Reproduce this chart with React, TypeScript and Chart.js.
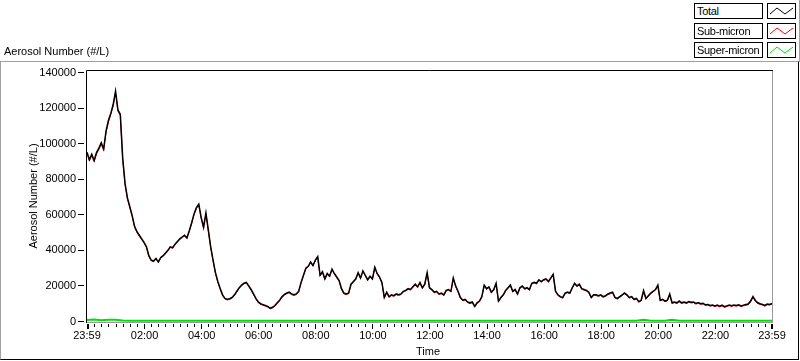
import React, { useEffect, useRef } from 'react';
import { Chart, registerables } from 'chart.js';

Chart.register(...registerables);

// Sampling step (minutes after the 23:59 start) of the read-off series
const SAMPLE_MIN = 5;
const SUPER_SAMPLE_MIN = 15;

// Total aerosol number (#/L), one value every 5 minutes from 23:59 to 23:59
const totalValues = [
  95200, 91000, 94000, 90500, 95000, 97500, 100500, 97000, 107000, 113000,
  117000, 122000, 129500, 119000, 116500, 92000, 77500, 69500, 64500, 59500,
  53500, 50500, 48500, 46500, 44500, 42000, 37000, 34500, 34000, 35500,
  33500, 36000, 37000, 38500, 40000, 42000, 41500, 43500, 45000, 46500,
  47500, 48500, 47000, 51000, 55500, 60500, 64000, 66000, 58500, 53000,
  61000, 51500, 42000, 34500, 27500, 22500, 18500, 15000, 13000, 12500,
  12800, 13500, 15000, 17000, 19000, 20500, 21500, 22000, 20000, 18000,
  15500, 13000, 11000, 10000, 9500, 9000, 8500, 7500, 8000, 9000,
  10500, 12000, 14000, 15200, 16000, 16500, 15500, 15000, 15500, 17000,
  22000, 26000, 30000, 31000, 33500, 31500, 34500, 36500, 26000, 28000,
  24000, 27000, 25500, 29500, 27000, 25000, 23000, 18500, 16000, 15500,
  16000, 21000, 22500, 24000, 27500, 24500, 28500, 26000, 23500, 25500,
  24000, 30500, 27000, 25000, 22000, 13500, 16500, 14000, 15000, 14500,
  15500, 15000, 15500, 17000, 17500, 18500, 18000, 19500, 21000, 19500,
  22000, 19000, 21000, 27500, 19000, 18000, 16500, 17000, 15500, 16000,
  15000, 17500, 18000, 17000, 24500, 20000, 17000, 13500, 12000, 12500,
  11000, 10500, 11000, 8500, 10500, 11500, 14000, 20500, 18500, 19500,
  16500, 18000, 21500, 11500, 13500, 15000, 17500, 19000, 20500, 17000,
  18000, 15500, 19000, 20000, 18500, 19000, 18000, 21500, 22000, 21500,
  23500, 22500, 23500, 24000, 22500, 24500, 26500, 17000, 15000, 14000,
  13500, 16000, 16500, 16000, 19000, 21500, 20000, 21000, 18500, 18000,
  17500, 16500, 13500, 15000, 15000, 14500, 15000, 14000, 14500, 15500,
  16000, 16500, 13500, 13000, 14000, 15000, 16000, 15000, 13500, 14000,
  12500, 13000, 11200, 12000, 17400, 13000, 14500, 16000, 17000, 18000,
  20500, 12000, 12500, 11500, 12000, 15500, 10500, 11000, 10500, 11500,
  10500, 11000, 10500, 11200, 10800, 11000, 10200, 10600, 10000, 10300,
  9400, 9600, 9000, 9300, 8800, 9200, 8600, 9200, 8300, 8800,
  9300, 8900, 9300, 9000, 9400, 8800, 9200, 9500, 9800, 11500,
  14000, 11800, 10500, 10000, 9600, 9000, 9800, 9600, 10200,
];

// Sub-micron aerosol number (#/L), same 5-minute steps
const subMicronValues = [
  94500, 90300, 93200, 89800, 94200, 96700, 99800, 96200, 106200, 112100,
  116300, 121100, 128600, 118200, 115800, 91300, 76900, 68900, 64000, 59000,
  53000, 50000, 48000, 46000, 44000, 41600, 36600, 34100, 33600, 35100,
  33100, 35600, 36600, 38100, 39600, 41600, 41100, 43100, 44600, 46100,
  47100, 48100, 46600, 50600, 55000, 60000, 63500, 65500, 58000, 52500,
  60500, 51000, 41600, 34100, 27100, 22100, 18100, 14600, 12600, 12100,
  12400, 13100, 14600, 16600, 18600, 20100, 21100, 21600, 19600, 17600,
  15100, 12600, 10600, 9600, 9100, 8600, 8100, 7100, 7600, 8600,
  10100, 11600, 13600, 14800, 15600, 16100, 15100, 14600, 15100, 16600,
  21600, 25600, 29600, 30600, 33100, 31100, 34100, 36100, 25600, 27600,
  23600, 26600, 25100, 29100, 26600, 24600, 22600, 18100, 15600, 15100,
  15600, 20600, 22100, 23600, 27100, 24100, 28100, 25600, 23100, 25100,
  23600, 30100, 26600, 24600, 21600, 13100, 16100, 13600, 14600, 14100,
  15100, 14600, 15100, 16600, 17100, 18100, 17600, 19100, 20600, 19100,
  21600, 18600, 20600, 27100, 18600, 17600, 16100, 16600, 15100, 15600,
  14600, 17100, 17600, 16600, 24100, 19600, 16600, 13100, 11600, 12100,
  10600, 10100, 10600, 8100, 10100, 11100, 13600, 20100, 18100, 19100,
  16100, 17600, 21100, 11100, 13100, 14600, 17100, 18600, 20100, 16600,
  17600, 15100, 18600, 19600, 18100, 18600, 17600, 21100, 21600, 21100,
  23100, 22100, 23100, 23600, 22100, 24100, 26100, 16600, 14600, 13600,
  13100, 15600, 16100, 15600, 18600, 21100, 19600, 20600, 18100, 17600,
  17100, 16100, 13100, 14600, 14600, 14100, 14600, 13600, 14100, 15100,
  15600, 16100, 13100, 12600, 13600, 14600, 15600, 14600, 13100, 13600,
  12100, 12600, 10800, 11600, 16700, 12600, 14100, 15600, 16600, 17600,
  20100, 11600, 12100, 11100, 11600, 14800, 10100, 10600, 10100, 11100,
  10100, 10600, 10100, 10800, 10400, 10600, 9800, 10200, 9600, 9900,
  9000, 9200, 8600, 8900, 8400, 8800, 8200, 8800, 7900, 8400,
  8900, 8500, 8900, 8600, 9000, 8400, 8800, 9100, 9400, 11100,
  13600, 11400, 10100, 9600, 9200, 8600, 9400, 9200, 9800,
];

// Super-micron aerosol number (#/L), one value every 15 minutes
const superMicronValues = [
  800, 1100, 650, 1050, 950, 550, 480, 450, 400, 420, 380, 400, 410, 390, 400, 380, 400, 420, 390, 400,
  410, 380, 400, 390, 400, 420, 380, 400, 400, 390, 410, 400, 380, 400, 390, 410, 400, 380, 400, 420,
  390, 400, 380, 400, 410, 390, 400, 380, 400, 420, 390, 400, 410, 380, 400, 390, 400, 420, 380, 400,
  390, 410, 400, 380, 400, 390, 410, 400, 380, 400, 420, 390, 400, 410, 380, 400, 390, 400, 1000, 400,
  390, 380, 950, 400, 390, 410, 380, 400, 390, 400, 410, 380, 400, 390, 400, 380, 400,
];

const yTickValues = [0, 20000, 40000, 60000, 80000, 100000, 120000, 140000];
const xMajorMinutes = [0, 121, 241, 361, 481, 601, 721, 841, 961, 1081, 1201, 1321, 1440];
const xTickLabels = ['23:59', '02:00', '04:00', '06:00', '08:00', '10:00', '12:00', '14:00', '16:00', '18:00', '20:00', '22:00', '23:59'];
const X_MINOR_STEP = 15;
const X_FIRST_MINOR = 16;

const seriesNames = ['Total', 'Sub-micron', 'Super-micron'];
const seriesColors = ['#000000', '#ff0000', '#00e000'];

const FONT = "'Liberation Sans', Arial, sans-serif";

const framePlugin = {
  id: 'labviewFrame',
  beforeDatasetsDraw(chart: any) {
    const { ctx, chartArea: a } = chart;
    ctx.save();
    ctx.lineWidth = 1;
    ctx.strokeStyle = '#9a9a9a';
    ctx.beginPath();
    ctx.moveTo(a.right + 0.5, a.top - 1);
    ctx.lineTo(a.right + 0.5, a.bottom + 1);
    ctx.moveTo(a.left - 1, a.bottom + 0.5);
    ctx.lineTo(a.right + 1, a.bottom + 0.5);
    ctx.stroke();
    ctx.strokeStyle = '#000000';
    ctx.beginPath();
    ctx.moveTo(a.left - 0.5, a.bottom + 1);
    ctx.lineTo(a.left - 0.5, a.top - 0.5);
    ctx.lineTo(a.right + 1, a.top - 0.5);
    ctx.stroke();
    // y tick marks
    const ys = chart.scales.y;
    ctx.beginPath();
    yTickValues.forEach((v) => {
      const p = Math.floor(ys.getPixelForValue(v)) + 0.5;
      ctx.moveTo(a.left - 9, p);
      ctx.lineTo(a.left - 3, p);
    });
    ctx.stroke();
    // x tick marks
    const xs = chart.scales.x;
    ctx.fillStyle = '#000000';
    for (let m = X_FIRST_MINOR; m < 1440; m += X_MINOR_STEP) {
      const px = Math.floor(xs.getPixelForValue(m));
      ctx.fillRect(px, a.bottom + 2, 1, 3);
    }
    xMajorMinutes.forEach((m, i) => {
      const px = Math.floor(xs.getPixelForValue(m));
      const end = i === 0 || i === xMajorMinutes.length - 1;
      ctx.fillRect(i === xMajorMinutes.length - 1 ? px - 1 : px, a.bottom + 2, end ? 2 : 1, 5);
    });
    ctx.restore();
  },
};

function LegendSample({ color }: { color: string }) {
  return (
    <svg width={27} height={14} style={{ display: 'block' }}>
      <polyline points="2,10 9,4 17,10 25,4" fill="none" stroke={color} strokeWidth={1} />
    </svg>
  );
}

export default function App() {
  const canvasRef = useRef<HTMLCanvasElement | null>(null);

  useEffect(() => {
    if (!canvasRef.current) return;
    const chart = new Chart(canvasRef.current, {
      type: 'line',
      data: {
        datasets: [
          {
            label: seriesNames[0],
            data: totalValues.map((y, i) => ({ x: i * SAMPLE_MIN, y })),
            borderColor: seriesColors[0],
            borderWidth: 1.5,
            pointRadius: 0,
            tension: 0,
          },
          {
            label: seriesNames[1],
            data: subMicronValues.map((y, i) => ({ x: i * SAMPLE_MIN, y })),
            borderColor: seriesColors[1],
            borderWidth: 1,
            pointRadius: 0,
            tension: 0,
          },
          {
            label: seriesNames[2],
            data: superMicronValues.map((y, i) => ({ x: i * SUPER_SAMPLE_MIN, y })),
            borderColor: seriesColors[2],
            borderWidth: 2,
            pointRadius: 0,
            tension: 0,
          },
        ],
      },
      options: {
        responsive: false,
        animation: false,
        layout: { padding: { top: 71, right: 28, left: 0, bottom: 0 } },
        plugins: { legend: { display: false }, tooltip: { enabled: false } },
        scales: {
          x: {
            type: 'linear',
            min: 0,
            max: 1440,
            grid: { display: false, drawTicks: false },
            border: { display: false },
            afterBuildTicks: (s: any) => {
              s.ticks = xMajorMinutes.map((v) => ({ value: v }));
            },
            afterFit: (s: any) => {
              s.height = 39;
            },
            ticks: {
              autoSkip: false,
              maxRotation: 0,
              minRotation: 0,
              padding: 7,
              color: '#000000',
              font: { family: FONT, size: 11 },
              callback: (v: any) => {
                const idx = xMajorMinutes.indexOf(Number(v));
                return idx >= 0 ? xTickLabels[idx] : '';
              },
            },
          },
          y: {
            type: 'linear',
            min: -280,
            max: 140840,
            grid: { display: false, drawTicks: false },
            border: { display: false },
            afterBuildTicks: (s: any) => {
              s.ticks = yTickValues.map((v) => ({ value: v }));
            },
            afterFit: (s: any) => {
              s.width = 87;
            },
            ticks: {
              padding: 11,
              color: '#000000',
              font: { family: FONT, size: 11 },
              callback: (v: any) => String(v),
            },
          },
        },
      },
      plugins: [framePlugin],
    });
    return () => chart.destroy();
  }, []);

  const textStyle: React.CSSProperties = {
    position: 'absolute',
    fontFamily: FONT,
    fontSize: 11,
    lineHeight: '14px',
    color: '#000',
    whiteSpace: 'nowrap',
  };

  return (
    <div style={{ position: 'absolute', left: 0, top: 0, width: 800, height: 361, background: '#fff', overflow: 'hidden' }}>
      {/* outer frame */}
      <div
        style={{
          position: 'absolute',
          left: 0,
          top: 61,
          width: 799,
          height: 299,
          boxSizing: 'border-box',
          borderTop: '1px solid #a0a0a0',
          borderLeft: '1px solid #a0a0a0',
          borderRight: '1px solid #000',
          borderBottom: '1px solid #000',
        }}
      />
      <div style={{ position: 'absolute', left: 799, top: 0, width: 1, height: 62, background: '#a0a0a0' }} />
      <canvas ref={canvasRef} width={800} height={361} style={{ position: 'absolute', left: 0, top: 0 }} />
      <div style={{ ...textStyle, left: 4, top: 44 }}>Aerosol Number (#/L)</div>
      <div
        style={{
          ...textStyle,
          left: 33 - 60,
          top: 196 - 7,
          width: 120,
          height: 14,
          textAlign: 'center',
          transformOrigin: '60px 7px',
          transform: 'rotate(-90deg)',
        }}
      >
        Aerosol Number (#/L)
      </div>
      <div style={{ ...textStyle, left: 408, top: 344, width: 40, textAlign: 'center' }}>Time</div>
      {seriesNames.map((name, i) => (
        <React.Fragment key={name}>
          <div
            style={{
              ...textStyle,
              left: 694,
              top: 3 + Math.round(i * 19.5),
              width: 69,
              height: 16,
              boxSizing: 'border-box',
              border: '1px solid #000',
              paddingLeft: 2,
              lineHeight: '14px',
              letterSpacing: '-0.3px',
              background: '#fff',
              overflow: 'hidden',
            }}
          >
            {name}
          </div>
          <div
            style={{
              position: 'absolute',
              left: 767,
              top: 3 + Math.round(i * 19.5),
              width: 29,
              height: 16,
              boxSizing: 'border-box',
              border: '1px solid #000',
              background: '#fff',
            }}
          >
            <LegendSample color={seriesColors[i]} />
          </div>
        </React.Fragment>
      ))}
    </div>
  );
}
